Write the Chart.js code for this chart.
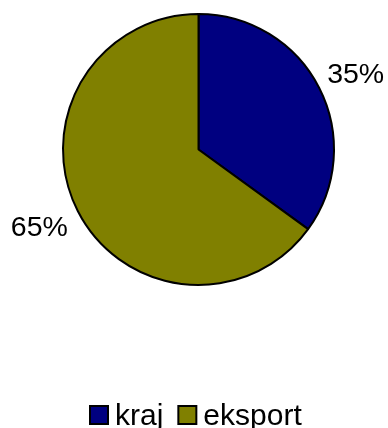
<!DOCTYPE html>
<html>
<head>
<meta charset="utf-8">
<script src="https://cdn.jsdelivr.net/npm/chart.js@4/dist/chart.umd.min.js"></script>
<style>
  html, body { margin: 0; padding: 0; background: #fff; }
  #wrap { width: 388px; height: 428px; position: relative; }
</style>
</head>
<body>
<div id="wrap"><canvas id="c" width="388" height="428"></canvas></div>
<script>
const categories = ["kraj", "eksport"];
const values = [35, 65];
const sliceColors = ["#000080", "#808000"];

const FONT = "'Liberation Sans', Arial, sans-serif";

const pctLabels = {
  id: 'pctLabels',
  afterDatasetsDraw(chart) {
    const ctx = chart.ctx;
    const meta = chart.getDatasetMeta(0);
    const total = values.reduce((a, b) => a + b, 0);
    ctx.save();
    ctx.font = "28.5px " + FONT;
    ctx.fillStyle = "#000";
    meta.data.forEach((arc, i) => {
      const p = arc.getProps(['x', 'y', 'startAngle', 'endAngle', 'outerRadius'], true);
      const mid = (p.startAngle + p.endAngle) / 2;
      const d = p.outerRadius + 10;
      const px = p.x + Math.cos(mid) * d;
      const py = p.y + Math.sin(mid) * d;
      const txt = Math.round(values[i] / total * 100) + "%";
      const right = Math.cos(mid) >= 0;
      ctx.textAlign = right ? 'left' : 'right';
      ctx.textBaseline = 'alphabetic';
      const capH = 20;
      const by = Math.sin(mid) < 0 ? py : py + capH;
      ctx.fillText(txt, px + (right ? -1 : -1), by);
    });
    ctx.restore();
  }
};

const customLegend = {
  id: 'customLegend',
  afterDraw(chart) {
    const ctx = chart.ctx;
    ctx.save();
    ctx.font = "30px " + FONT;
    ctx.textBaseline = 'alphabetic';
    ctx.textAlign = 'left';
    const box = 18;
    let x = 90;
    const yTop = 406;
    categories.forEach((c, i) => {
      ctx.fillStyle = sliceColors[i];
      ctx.fillRect(x, yTop, box, box);
      ctx.lineWidth = 2;
      ctx.strokeStyle = "#000";
      ctx.strokeRect(x, yTop, box, box);
      ctx.fillStyle = "#000";
      const tx = x + box + 7;
      ctx.fillText(c, tx, 425);
      x = tx + ctx.measureText(c).width + 15;
    });
    ctx.restore();
  }
};

new Chart(document.getElementById('c'), {
  type: 'pie',
  data: {
    labels: categories,
    datasets: [{
      data: values,
      backgroundColor: sliceColors,
      borderColor: "#000",
      borderWidth: 2,
      hoverOffset: 0
    }]
  },
  options: {
    responsive: false,
    animation: false,
    radius: 135.5,
    layout: { padding: { left: 62, right: 53, top: 13, bottom: 142 } },
    plugins: {
      legend: { display: false },
      tooltip: { enabled: false }
    },
    events: []
  },
  plugins: [pctLabels, customLegend]
});
</script>
</body>
</html>
